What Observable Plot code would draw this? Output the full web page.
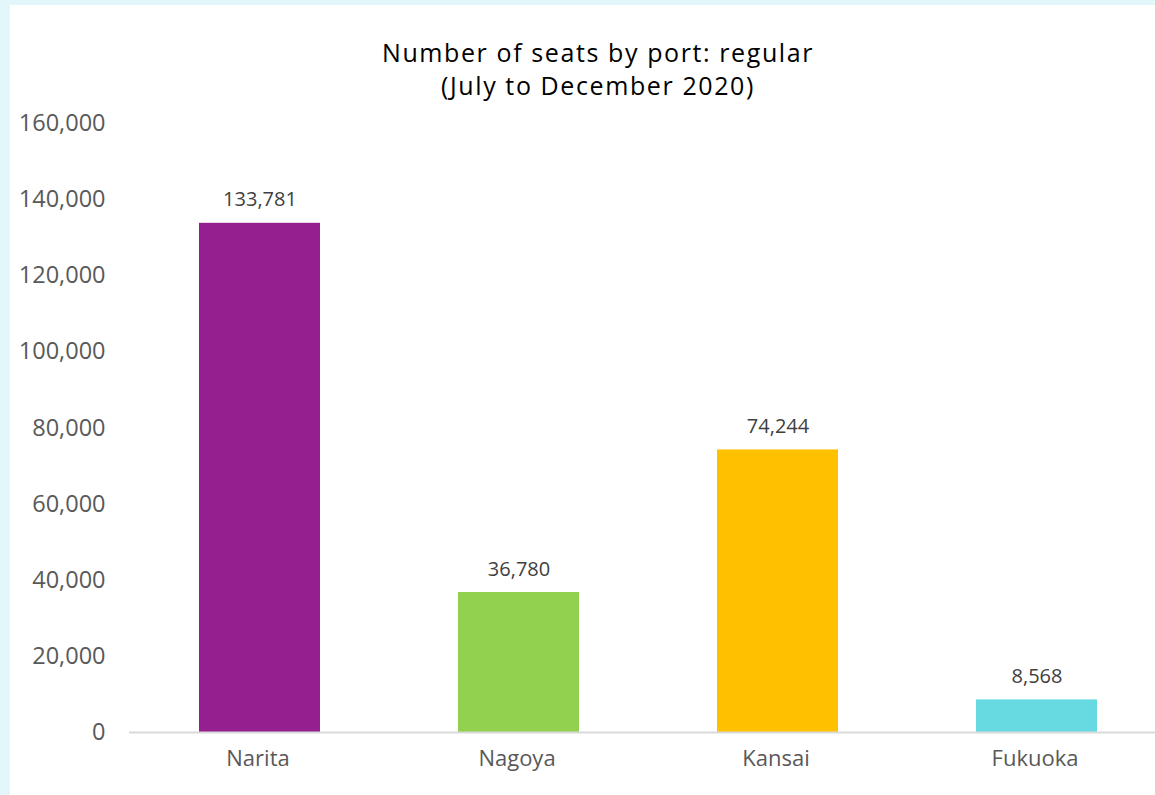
<!DOCTYPE html>
<html>
<head>
<meta charset="utf-8">
<script src="https://cdn.jsdelivr.net/npm/d3@7"></script>
<script src="https://cdn.jsdelivr.net/npm/@observablehq/plot@0.6"></script>
<style>
  html, body { margin: 0; padding: 0; background: #e3f6f9; }
  body { width: 1155px; height: 795px; overflow: hidden; position: relative; }
  #panel { position: absolute; left: 10px; top: 5px; width: 1145px; height: 790px; background: #fff; }
  #title { position: absolute; left: 588px; top: 31px; transform: translateX(-50%); white-space: nowrap;
           font-family: "Open Sans", sans-serif; font-size: 25px; line-height: 33px; letter-spacing: 1.6px;
           color: #000; text-align: center; }
  #chart { position: absolute; left: 0; top: 100px; }
</style>
</head>
<body>
<div id="panel">
  <div id="title">Number of seats by port: regular<br>(July to December 2020)</div>
  <div id="chart"></div>
</div>
<script>
const ports = ["Narita", "Nagoya", "Kansai", "Fukuoka"];
const seats = [133781, 36780, 74244, 8568];
const colors = ["#951f8f", "#92d050", "#ffc000", "#66dae0"];
const yTicks = [0, 20000, 40000, 60000, 80000, 100000, 120000, 140000, 160000];

const data = ports.map((p, i) => ({port: p, seats: seats[i], color: colors[i]}));
const fmt = d3.format(",");

const chart = Plot.plot({
  width: 1145,
  height: 690,
  marginTop: 18,
  marginBottom: 63,
  marginLeft: 119,
  marginRight: 0,
  style: {fontFamily: "Open Sans, sans-serif", color: "#595959", background: "transparent"},
  x: {domain: ports, range: [119, 1157], paddingInner: 0.534, paddingOuter: 0.267, label: null},
  y: {domain: [0, 160000], label: null},
  marks: [
    Plot.axisY({ticks: yTicks, tickFormat: fmt, tickSize: 0, tickPadding: 24, fontSize: 23.5, fill: "#595959",
                style: {letterSpacing: "1.6px"}}),
    Plot.axisX({tickSize: 0, tickPadding: 18, fontSize: 22, fill: "#595959", dx: -2, style: {letterSpacing: "0.8px"}}),
    Plot.barY(data, {x: "port", y: "seats", fill: "color"}),
    Plot.ruleY([0], {stroke: "#d9d9d9", strokeWidth: 2}),
    Plot.text(data, {x: "port", y: "seats", text: d => fmt(d.seats), lineAnchor: "bottom", dy: -17,
                     fontSize: 20, fill: "#404040", style: {letterSpacing: "0.5px"}})
  ]
});
document.getElementById("chart").appendChild(chart);
</script>
</body>
</html>
